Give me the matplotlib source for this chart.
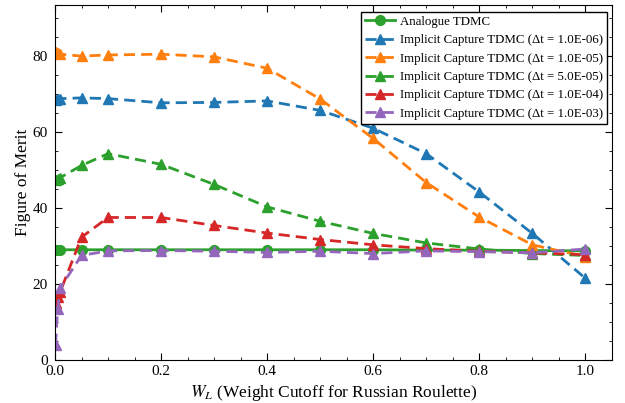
import numpy as np
import matplotlib.pyplot as plt
from matplotlib.ticker import AutoMinorLocator

plt.rcParams['font.family'] = 'serif'
plt.rcParams['font.serif'] = ['Liberation Serif', 'DejaVu Serif']
plt.rcParams['mathtext.fontset'] = 'stix'

# weight cutoff values
w_cut = [0.001, 0.005, 0.01, 0.05, 0.1, 0.2, 0.3, 0.4, 0.5, 0.6, 0.7, 0.8, 0.9, 1.0]

fom_analogue = [29.0, 29.0, 29.0, 29.0, 29.0, 29.0, 29.0, 29.0, 29.0, 29.0, 28.9, 28.9, 28.8, 28.7]
fom_dt_1e6 = [68.5, 68.6, 68.8, 69.0, 68.8, 67.7, 67.8, 68.2, 65.7, 61.0, 54.3, 44.2, 33.3, 21.5]
fom_dt_1e5 = [81.0, 80.7, 80.5, 80.0, 80.3, 80.5, 79.8, 76.8, 68.7, 58.3, 46.7, 37.6, 30.3, 27.2]
fom_dt_5e5 = [47.5, 47.7, 48.0, 51.2, 54.3, 51.5, 46.2, 40.3, 36.5, 33.3, 30.8, 29.2, 28.0, 27.5]
fom_dt_1e4 = [15.0, 16.5, 18.0, 32.3, 37.5, 37.5, 35.4, 33.4, 31.7, 30.3, 29.3, 28.6, 28.2, 27.7]
fom_dt_1e3 = [4.0, 13.5, 19.0, 27.5, 28.7, 28.8, 28.6, 28.3, 28.6, 28.0, 28.7, 28.5, 28.2, 29.2]

series = [
    (fom_dt_1e6, 'tab:blue', 'Implicit Capture TDMC (Δt = 1.0E-06)'),
    (fom_dt_1e5, 'tab:orange', 'Implicit Capture TDMC (Δt = 1.0E-05)'),
    (fom_dt_5e5, 'tab:green', 'Implicit Capture TDMC (Δt = 5.0E-05)'),
    (fom_dt_1e4, 'tab:red', 'Implicit Capture TDMC (Δt = 1.0E-04)'),
    (fom_dt_1e3, 'tab:purple', 'Implicit Capture TDMC (Δt = 1.0E-03)'),
]

fig, ax = plt.subplots(figsize=(6.25, 4.03), dpi=100)
fig.subplots_adjust(left=0.088, right=0.979, top=0.988, bottom=0.107)

ax.plot(w_cut, fom_analogue, '-o', color='tab:green', lw=2, ms=7,
        label='Analogue TDMC')
for vals, col, lab in series:
    ax.plot(w_cut, vals, '--^', color=col, lw=2, ms=7, label=lab,
            dashes=(4, 2.2))

ax.set_xlim(0, 1.05)
ax.set_ylim(0, 93.5)
ax.set_xticks([0.0, 0.2, 0.4, 0.6, 0.8, 1.0])
ax.set_yticks([0, 20, 40, 60, 80])
ax.xaxis.set_minor_locator(AutoMinorLocator(4))
ax.yaxis.set_minor_locator(AutoMinorLocator(4))
ax.tick_params(which='both', direction='in', top=True, right=True, labelsize=11)
ax.tick_params(which='major', length=5)
ax.tick_params(which='minor', length=2.5)
ax.tick_params(axis='x', pad=4)
ax.tick_params(axis='y', pad=5)

ax.set_xlabel(r'$W_L$ (Weight Cutoff for Russian Roulette)', fontsize=12.5,
              labelpad=3)
ax.set_ylabel('Figure of Merit', fontsize=12.5, labelpad=1)

leg = ax.legend(loc='upper right', fontsize=9.25, fancybox=False,
                edgecolor='black', framealpha=1, handlelength=2.3,
                handletextpad=0.4, borderpad=0.3, labelspacing=0.5,
                borderaxespad=0, bbox_to_anchor=(0.991, 0.98))
leg.get_frame().set_linewidth(1.0)

fig.savefig('out.png', dpi=100)
